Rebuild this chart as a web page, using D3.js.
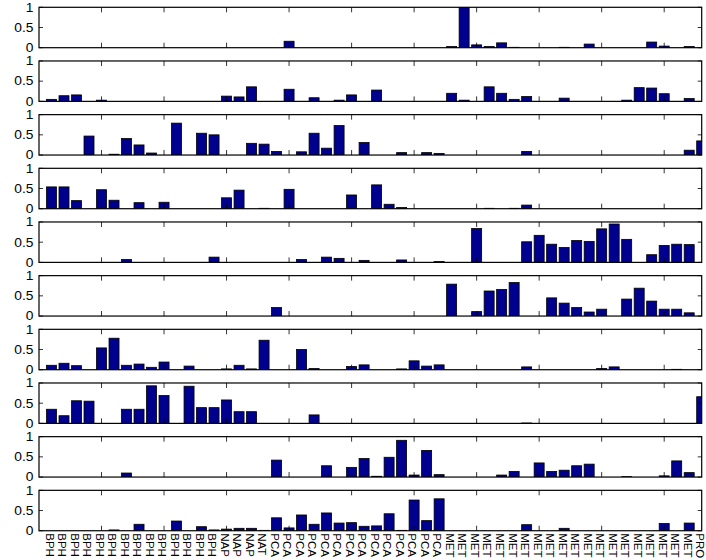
<!DOCTYPE html>
<html>
<head>
<meta charset="utf-8">
<script src="https://cdn.jsdelivr.net/npm/d3@7"></script>
<style>
  html, body { margin: 0; padding: 0; background: #fff; }
  svg { display: block; }
  text { font-family: "Liberation Sans", Arial, Helvetica, sans-serif; fill: #000; }
</style>
</head>
<body>
<div id="chart"></div>
<script>
// Category of each sample, in order along the x axis
const categories = [
  "BPH","BPH","BPH","BPH","BPH","BPH","BPH","BPH","BPH","BPH","BPH","BPH","BPH","BPH",
  "NAP","NAP","NAP","NAT",
  "PCA","PCA","PCA","PCA","PCA","PCA","PCA","PCA","PCA","PCA","PCA","PCA","PCA","PCA",
  "MET","MET","MET","MET","MET","MET","MET","MET","MET","MET",
  "MET","MET","MET","MET","MET","MET","MET","MET","MET","MET",
  "PRO"
];

// One row of weights per component (one panel each)
const comp1 = [0,0,0,0,0,0,0,0,0,0, 0,0,0,0,0,0,0,0,0,0.16, 0,0,0,0,0,0,0,0,0,0,
               0,0,0.03,1.00,0.07,0.03,0.12,0.01,0,0, 0,0.01,0,0.09,0,0,0,0,0.14,0.04, 0,0.03,0];
const comp2 = [0.05,0.14,0.16,0,0.03,0,0,0,0,0, 0,0,0,0,0.13,0.11,0.36,0,0,0.30, 0,0.09,0,0.03,0.16,0,0.28,0,0,0,
               0,0,0.20,0.03,0,0.36,0.20,0.05,0.12,0, 0,0.08,0,0,0,0,0.03,0.34,0.33,0.19, 0,0.07,0];
const comp3 = [0,0,0,0.47,0,0.02,0.41,0.25,0.05,0, 0.79,0,0.54,0.50,0,0,0.29,0.27,0.09,0, 0.08,0.54,0.17,0.73,0,0.31,0,0,0.06,0,
               0.06,0.04,0,0,0,0,0,0,0.09,0, 0,0,0,0,0,0,0,0,0,0, 0,0.12,0.35];
const comp4 = [0.54,0.54,0.20,0,0.47,0.21,0,0.15,0,0.16, 0,0,0,0,0.27,0.46,0,0.01,0,0.48, 0,0,0,0,0.34,0,0.59,0.11,0.03,0,
               0,0,0,0,0,0.01,0,0.01,0.09,0, 0,0,0,0,0,0,0,0,0,0, 0,0,0];
const comp5 = [0,0,0,0,0,0,0.07,0,0,0, 0,0,0,0.13,0,0,0,0,0,0, 0.07,0,0.13,0.10,0,0.05,0,0,0.06,0,
               0,0.02,0,0,0.84,0,0,0,0.51,0.67, 0.45,0.37,0.54,0.52,0.83,0.95,0.57,0,0.19,0.42, 0.45,0.44,0];
const comp6 = [0,0,0,0,0,0,0,0,0,0, 0,0,0,0,0,0,0,0,0.21,0, 0,0,0,0,0,0,0,0,0,0,
               0,0,0.79,0,0.11,0.62,0.66,0.83,0,0, 0.45,0.32,0.21,0.10,0.17,0,0.42,0.69,0.37,0.17, 0.17,0.08,0];
const comp7 = [0.11,0.16,0.10,0,0.54,0.78,0.11,0.14,0.06,0.19, 0,0.09,0,0,0.02,0.11,0.02,0.73,0,0, 0.50,0.03,0,0,0.08,0.12,0,0,0.02,0.22,
               0.09,0.12,0,0,0,0,0,0,0.07,0, 0,0,0,0,0.03,0.07,0,0,0,0, 0.01,0,0];
const comp8 = [0.35,0.19,0.56,0.55,0,0,0.35,0.35,0.93,0.69, 0,0.92,0.39,0.39,0.58,0.29,0.29,0,0,0, 0,0.21,0,0,0,0,0,0,0,0,
               0,0,0,0,0,0,0,0,0.01,0, 0,0,0,0,0,0,0,0,0,0, 0,0,0.66];
const comp9 = [0,0,0,0,0,0,0.10,0,0,0, 0,0,0,0,0,0,0,0,0.42,0, 0,0,0.28,0,0.24,0.46,0.02,0.49,0.91,0.05,
               0.66,0.06,0,0,0,0,0.05,0.14,0,0.35, 0.14,0.17,0.28,0.32,0,0,0.01,0,0,0.03, 0.40,0.11,0];
const comp10 = [0,0,0,0,0,0.02,0,0.16,0,0, 0.24,0,0.10,0.02,0.04,0.06,0.06,0.01,0.32,0.07, 0.39,0.16,0.44,0.19,0.20,0.11,0.12,0.42,0.01,0.76,
                0.25,0.79,0,0,0,0,0,0,0.15,0, 0,0.06,0,0,0,0,0,0,0,0.18, 0,0.19,0];

const components = [comp1, comp2, comp3, comp4, comp5, comp6, comp7, comp8, comp9, comp10];
const yTicks = [0, 0.5, 1];
const yTickLabels = ["0", "0.5", "1"];
const xTicks = [5, 10, 15, 20, 25, 30, 35, 40, 45, 50];

const W = 706, H = 560;
const left = 39, right = 701.7;
const firstTop = 7.3, panelStep = 53.67, panelH = 40.4;
const barColor = "#00008f";

const svg = d3.select("#chart").append("svg")
  .attr("width", W).attr("height", H);

// Samples sit at integer positions 1..N, the axis runs from 0 to N
const x = d3.scaleLinear().domain([0, categories.length]).range([left, right]);
const barW = (x(1) - x(0)) * 0.8;

const defs = svg.append("defs");

components.forEach((vals, i) => {
  const top = firstTop + i * panelStep;
  const y = d3.scaleLinear().domain([0, 1]).range([top + panelH, top]);

  defs.append("clipPath").attr("id", "clip" + i)
    .append("rect").attr("x", left).attr("y", top)
    .attr("width", right - left).attr("height", panelH);

  const g = svg.append("g");

  // bars
  g.append("g").attr("clip-path", `url(#clip${i})`)
    .selectAll("rect")
    .data(vals.map((v, j) => ({ k: j + 1, v })).filter(d => d.v > 0))
    .join("rect")
    .attr("x", d => x(d.k) - barW / 2)
    .attr("y", d => y(d.v))
    .attr("width", barW)
    .attr("height", d => y(0) - y(d.v))
    .attr("fill", barColor)
    .attr("stroke", "#000")
    .attr("stroke-width", 0.8);

  // x ticks, inward from top and bottom edges
  const tk = g.append("g").attr("stroke", "#000").attr("stroke-width", 0.8);
  xTicks.forEach(t => {
    tk.append("line").attr("x1", x(t)).attr("x2", x(t)).attr("y1", top).attr("y2", top + 5);
    tk.append("line").attr("x1", x(t)).attr("x2", x(t)).attr("y1", top + panelH).attr("y2", top + panelH - 5);
  });

  // y ticks on both sides
  yTicks.forEach(t => {
    tk.append("line").attr("x1", left).attr("x2", left + 4).attr("y1", y(t)).attr("y2", y(t));
    tk.append("line").attr("x1", right).attr("x2", right - 4).attr("y1", y(t)).attr("y2", y(t));
  });

  // y tick labels (slightly wide digits)
  g.selectAll("text.yl")
    .data(yTicks)
    .join("text")
    .attr("class", "yl")
    .attr("transform", d => `translate(33.5,${y(d)}) scale(1.15,1)`)
    .attr("dy", "0.36em")
    .attr("text-anchor", "end")
    .attr("font-size", 12)
    .text((d, j) => yTickLabels[j]);

  // frame
  g.append("rect")
    .attr("x", left).attr("y", top)
    .attr("width", right - left).attr("height", panelH)
    .attr("fill", "none").attr("stroke", "#000").attr("stroke-width", 1.2);
});

// rotated sample labels under the last panel
const baseY = firstTop + 9 * panelStep + panelH;
svg.append("g").selectAll("text")
  .data(categories)
  .join("text")
  .attr("transform", (d, j) => `translate(${x(j + 1) - 1.5},${baseY + 2.5}) rotate(90)`)
  .attr("dy", "0.36em")
  .attr("font-size", 11.5)
  .text(d => d);
</script>
</body>
</html>
